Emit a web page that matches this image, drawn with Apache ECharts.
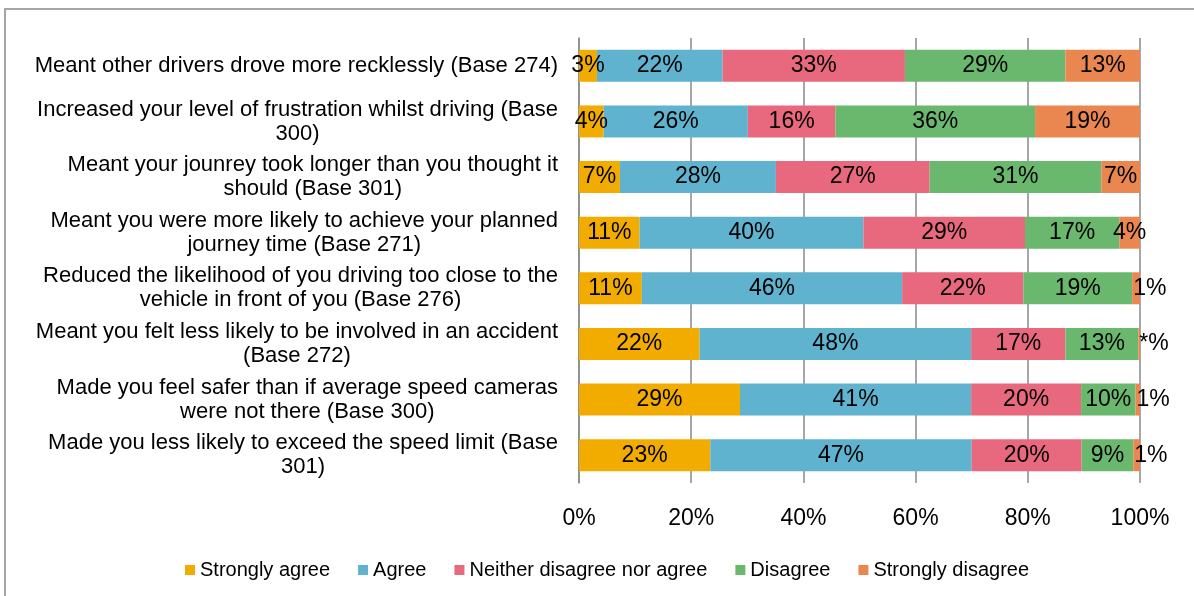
<!DOCTYPE html>
<html>
<head>
<meta charset="utf-8">
<script src="https://cdn.jsdelivr.net/npm/echarts@6/dist/echarts.min.js"></script>
<style>
  html, body { margin: 0; padding: 0; background: #fff; }
  #chart { width: 1194px; height: 596px; }
</style>
</head>
<body>
<div id="chart"></div>
<script>
const categories = [
  'Meant other drivers drove more recklessly (Base 274)',
  'Increased your level of frustration whilst driving (Base\n300)',
  'Meant your jounrey took longer than you thought it\nshould (Base 301)',
  'Meant you were more likely to achieve your planned\njourney time (Base 271)',
  'Reduced the likelihood of you driving too close to the\nvehicle in front of you (Base 276)',
  'Meant you felt less likely to be involved in an accident\n(Base 272)',
  'Made you feel safer than if average speed cameras\nwere not there (Base 300)',
  'Made you less likely to exceed the speed limit (Base\n301)'
]
const seriesNames = ['Strongly agree', 'Agree', 'Neither disagree nor agree', 'Disagree', 'Strongly disagree']
const stronglyAgree = [3.2, 4.4, 7.3, 10.8, 11.2, 21.5, 28.7, 23.4]
const agree = [22.4, 25.7, 27.8, 39.9, 46.4, 48.4, 41.2, 46.6]
const neither = [32.5, 15.6, 27.4, 28.8, 21.6, 16.8, 19.6, 19.6]
const disagree = [28.6, 35.6, 30.6, 16.8, 19.4, 13.0, 9.7, 9.2]
const stronglyDisagree = [13.3, 18.7, 6.9, 3.7, 1.4, 0.3, 0.8, 1.2]
const colors = ['#F2AC00', '#5FB3CE', '#E8697D', '#6AB86E', '#EA8751']

const font = 'Liberation Sans, Arial, sans-serif'

function toItems(values) {
  // tiny segments: Excel puts the label just right of the sliver
  return values.map(v => v < 2
    ? { value: v, label: { position: 'insideLeft', distance: 1 } }
    : v)
}

const chart = echarts.init(document.getElementById('chart'))

chart.setOption({
  animation: false,
  color: colors,
  graphic: [{
    type: 'rect',
    silent: true,
    shape: { x: 5, y: 9, width: 1300, height: 700 },
    style: { fill: 'none', stroke: '#a6a6a6', lineWidth: 2 }
  }],
  grid: {
    left: 579,
    right: 54,
    top: 38,
    bottom: 113
  },
  legend: {
    left: 180,
    top: 555,
    icon: 'rect',
    itemWidth: 10,
    itemHeight: 10,
    itemGap: 28,
    textStyle: { fontFamily: font, fontSize: 20, color: '#000' },
    data: seriesNames
  },
  xAxis: {
    type: 'value',
    min: 0,
    max: 100,
    interval: 20,
    axisLine: { show: false },
    axisTick: { show: false },
    splitLine: { lineStyle: { color: '#8a8a8a', width: 1.5 } },
    axisLabel: {
      formatter: '{value}%',
      margin: 24,
      color: '#000',
      fontFamily: font,
      fontSize: 23
    }
  },
  yAxis: {
    type: 'category',
    inverse: true,
    data: categories,
    axisLine: { show: true, lineStyle: { color: '#8a8a8a', width: 1.5 } },
    axisTick: { show: false },
    axisLabel: {
      margin: 21,
      color: '#000',
      fontFamily: font,
      fontSize: 22,
      lineHeight: 24,
      formatter: function (val) {
        return val.split('\n').map(s => '{c|' + s + '}').join('\n')
      },
      rich: {
        c: { align: 'center', fontFamily: font, fontSize: 22, lineHeight: 24, color: '#000' }
      }
    }
  },
  series: [stronglyAgree, agree, neither, disagree, stronglyDisagree].map((vals, i) => ({
    name: seriesNames[i],
    type: 'bar',
    stack: 'total',
    barWidth: 32,
    data: toItems(vals),
    label: {
      show: true,
      position: 'inside',
      color: '#000',
      fontFamily: font,
      fontSize: 23,
      formatter: function (p) {
        return p.value < 0.5 ? '*%' : Math.round(p.value) + '%'
      }
    }
  }))
})
</script>
</body>
</html>
